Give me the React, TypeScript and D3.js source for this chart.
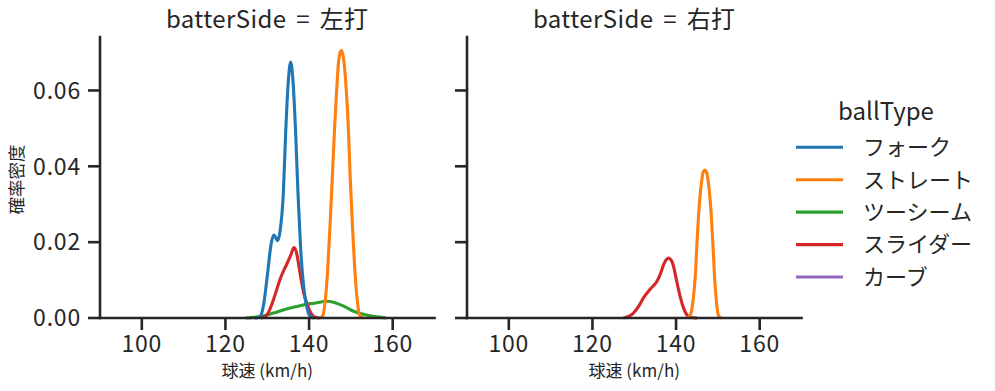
import * as d3 from "d3";

// axis ticks and categories
const speedTicks = [100, 120, 140, 160];
const densityTicks = [0, 0.02, 0.04, 0.06];
const ballTypes = ["フォーク", "ストレート", "ツーシーム", "スライダー", "カーブ"];
const palette = ["#1f77b4", "#ff7f0e", "#2ca02c", "#d62728", "#9467bd"];

// 左打 panel, density curves
const leftForkSpeed = [127, 128, 128.4, 129.2, 130, 131, 131.6, 132.5, 133.05, 133.85, 134.4, 135, 135.6, 136.2, 136.8, 137.35, 138, 138.8, 139.6, 140.4, 141.2];
const leftForkDensity = [0, 0.0002, 0.0005, 0.004, 0.011, 0.02, 0.0219, 0.0204, 0.0228, 0.033, 0.0487, 0.0618, 0.0675, 0.0618, 0.0486, 0.0329, 0.018, 0.0074, 0.0022, 0.0003, 0];

const leftStraightSpeed = [142.5, 143.2, 144, 144.4, 145, 145.6, 146.1, 146.6, 147.1, 147.7, 148.3, 148.9, 149.4, 149.8, 150.4, 151, 151.5, 152.2, 153];
const leftStraightDensity = [0, 0.0005, 0.006, 0.0118, 0.024, 0.038, 0.05, 0.06, 0.068, 0.0706, 0.068, 0.06, 0.05, 0.038, 0.024, 0.0118, 0.005, 0.0005, 0];

const leftTwoSeamSpeed = [124.8, 127, 129.2, 131.5, 134, 136.5, 138.8, 141.2, 144.4, 146, 148.5, 150.8, 153.2, 156.4, 158.4];
const leftTwoSeamDensity = [0, 0.0002, 0.0006, 0.0013, 0.0022, 0.0029, 0.0035, 0.0039, 0.0044, 0.0041, 0.003, 0.0017, 0.0009, 0.0003, 0];

const leftSliderSpeed = [128.5, 129.6, 130.5, 131.6, 132.4, 133.2, 134, 134.8, 135.6, 136.4, 137, 137.6, 138.2, 138.8, 139.6, 140.5, 141.5, 142.5];
const leftSliderDensity = [0, 0.0004, 0.002, 0.0052, 0.008, 0.0106, 0.0127, 0.0145, 0.0165, 0.0186, 0.0172, 0.0135, 0.0095, 0.0062, 0.0035, 0.0012, 0.0002, 0];

// 右打 panel
const rightStraightSpeed = [142.8, 143.5, 144.2, 144.6, 145, 145.5, 146, 146.5, 146.9, 147.3, 147.8, 148.3, 148.8, 149.2, 149.6, 150.2, 150.8];
const rightStraightDensity = [0, 0.001, 0.006, 0.011, 0.0197, 0.029, 0.035, 0.0385, 0.039, 0.0385, 0.035, 0.029, 0.0197, 0.011, 0.005, 0.0005, 0];

const rightSliderSpeed = [127.4, 128.6, 129.8, 131, 132.2, 133.8, 135.4, 136.2, 137, 137.6, 138.2, 138.8, 139.4, 140, 140.6, 141.2, 141.8, 142.6, 143.4, 145];
const rightSliderDensity = [0, 0.0004, 0.0013, 0.003, 0.0053, 0.0076, 0.0096, 0.0115, 0.014, 0.0153, 0.0158, 0.0153, 0.0136, 0.0105, 0.0074, 0.0047, 0.0026, 0.0008, 0.0002, 0];

type Series = { type: string; speed: number[]; density: number[] };

const leftSeries: Series[] = [
  { type: "ツーシーム", speed: leftTwoSeamSpeed, density: leftTwoSeamDensity },
  { type: "スライダー", speed: leftSliderSpeed, density: leftSliderDensity },
  { type: "ストレート", speed: leftStraightSpeed, density: leftStraightDensity },
  { type: "フォーク", speed: leftForkSpeed, density: leftForkDensity },
];
const rightSeries: Series[] = [
  { type: "スライダー", speed: rightSliderSpeed, density: rightSliderDensity },
  { type: "ストレート", speed: rightStraightSpeed, density: rightStraightDensity },
];

const FONT = "'Noto Sans CJK JP', 'Noto Sans', sans-serif";
const INK = "#262626";
const TOP = 37;
const BOTTOM = 318;
const PANEL_W = 334.5;

const color = d3.scaleOrdinal<string, string>().domain(ballTypes).range(palette);
const y = d3.scaleLinear().domain([0, 0.0741]).range([BOTTOM, TOP]);

function Panel({ left, side, series, showY }: { left: number; side: string; series: Series[]; showY: boolean }) {
  const x = d3.scaleLinear().domain([90, 170]).range([left, left + PANEL_W]);
  const line = d3
    .line<[number, number]>()
    .x((d) => x(d[0]))
    .y((d) => y(d[1]))
    .curve(d3.curveMonotoneX);
  const mid = left + PANEL_W / 2;

  return (
    <g>
      <text x={mid} y={28} textAnchor="middle" fontSize={24} fill={INK} letterSpacing={0.4} wordSpacing={4}>
        {`batterSide = ${side}`}
      </text>

      {series.map((s) => (
        <path
          key={s.type}
          d={line(s.speed.map((v, i) => [v, s.density[i]] as [number, number])) || ""}
          fill="none"
          stroke={color(s.type)}
          strokeWidth={3.1}
          strokeLinejoin="round"
        />
      ))}

      {/* spines */}
      <line x1={left} x2={left} y1={TOP} y2={BOTTOM} stroke={INK} strokeWidth={2.6} strokeLinecap="square" />
      <line x1={left} x2={left + PANEL_W} y1={BOTTOM} y2={BOTTOM} stroke={INK} strokeWidth={2.6} strokeLinecap="square" />

      {speedTicks.map((t) => (
        <g key={t}>
          <line x1={x(t)} x2={x(t)} y1={BOTTOM} y2={BOTTOM + 12} stroke={INK} strokeWidth={2.6} />
          <text x={x(t)} y={351.5} textAnchor="middle" fontSize={23} fill={INK} letterSpacing={0.8}>
            {t}
          </text>
        </g>
      ))}
      <text x={mid} y={377} textAnchor="middle" fontSize={17} fill={INK}>
        球速 (km/h)
      </text>

      {densityTicks.map((t) => (
        <g key={t}>
          <line x1={left - 12} x2={left} y1={y(t)} y2={y(t)} stroke={INK} strokeWidth={2.6} />
          {showY && (
            <text x={left - 19} y={y(t)} dy="0.36em" textAnchor="end" fontSize={23} fill={INK} letterSpacing={0.8}>
              {d3.format(".2f")(t)}
            </text>
          )}
        </g>
      ))}
      {showY && (
        <text
          transform={`translate(${left - 83},${(TOP + BOTTOM) / 2 + 2}) rotate(-90)`}
          textAnchor="middle"
          dy="0.35em"
          fontSize={17.5}
          fill={INK}
        >
          確率密度
        </text>
      )}
    </g>
  );
}

function Legend() {
  const rowY = d3.scalePoint<string>().domain(ballTypes).range([147.3, 277]);
  return (
    <g>
      <text x={886} y={120} textAnchor="middle" fontSize={24} fill={INK}>
        ballType
      </text>
      {ballTypes.map((b) => (
        <g key={b}>
          <line x1={796} x2={843} y1={rowY(b)} y2={rowY(b)} stroke={color(b)} strokeWidth={3.1} />
          <text x={863} y={rowY(b)} dy="0.36em" fontSize={22} fill={INK}>
            {b}
          </text>
        </g>
      ))}
    </g>
  );
}

export default function App() {
  return (
    <svg
      width={995}
      height={391}
      style={{ position: "absolute", left: 0, top: 0, background: "#fff", fontFamily: FONT }}
    >
      <Panel left={100} side="左打" series={leftSeries} showY />
      <Panel left={467} side="右打" series={rightSeries} showY={false} />
      <Legend />
    </svg>
  );
}
